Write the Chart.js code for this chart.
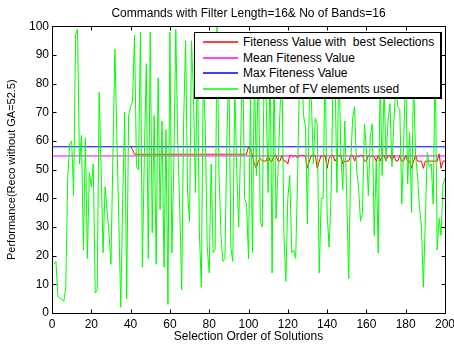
<!DOCTYPE html>
<html>
<head>
<meta charset="utf-8">
<title>Commands with Filter Length=16&amp; No of Bands=16</title>
<script src="https://cdn.jsdelivr.net/npm/chart.js@4.4.1/dist/chart.umd.min.js"></script>
<style>
  html, body { margin: 0; padding: 0; background: #fff; }
  #wrap { position: relative; width: 454px; height: 345px; }
  #legend {
    position: absolute; left: 194px; top: 32px; width: 245px; height: 64px;
    background: #fff; border: 1px solid #000; border-right-width: 2px; border-bottom-width: 2px;
    font: 12px "Liberation Sans", Arial, sans-serif; color: #000;
  }
  .row { position: absolute; left: 0; right: 0; height: 15px; }
  .row .ln { position: absolute; left: 8px; width: 35px; height: 2px; top: 7px; opacity: 0.75; }
  .row .tx { position: absolute; left: 48px; top: 0; line-height: 16px; white-space: pre; }
</style>
</head>
<body>
<div id="wrap">
  <canvas id="chart"></canvas>
  <div id="legend"></div>
</div>
<script>
// texts
const chartTitle = 'Commands with Filter Length=16& No of Bands=16';
const xAxisTitle = 'Selection Order of Solutions';
const yAxisTitle = 'Performance(Reco without GA=52.5)';
const seriesNames = ['Fiteness Value with  best Selections', 'Mean Fiteness Value', 'Max Fiteness Value', 'Number of FV elements used'];
const seriesColors = ['#ff0000', '#ff00ff', '#0000ff', '#00ff00'];

// ticks
const xTicks = [0, 20, 40, 60, 80, 100, 120, 140, 160, 180, 200];
const yTicks = [0, 10, 20, 30, 40, 50, 60, 70, 80, 90, 100];

// number of FV elements used, selection order 1..200
const fvElements = [
  17, 18, 6, 5, 5, 4, 9, 47, 59, 60,
  41, 97, 99, 52, 62, 22, 61, 19, 49, 44,
  52, 7, 8, 77, 50, 21, 44, 36, 28, 17,
  55, 92, 62, 32, 2, 40, 70, 5, 69, 72,
  74, 97, 51, 50, 98, 16, 55, 87, 19, 98,
  28, 69, 17, 82, 36, 67, 16, 64, 3, 98,
  21, 52, 99, 60, 37, 8, 67, 95, 42, 32,
  95, 76, 42, 91, 28, 9, 84, 65, 23, 14,
  52, 21, 22, 100, 48, 27, 18, 19, 60, 88,
  23, 18, 79, 50, 30, 58, 95, 40, 38, 19,
  76, 21, 85, 48, 90, 32, 30, 88, 75, 42,
  90, 14, 85, 33, 49, 70, 88, 28, 11, 40,
  48, 21, 22, 19, 48, 85, 88, 69, 65, 31,
  76, 74, 52, 68, 66, 14, 40, 40, 90, 35,
  23, 40, 80, 86, 42, 90, 55, 43, 67, 40,
  12, 52, 68, 72, 50, 44, 32, 35, 66, 57,
  41, 62, 66, 27, 53, 21, 85, 48, 80, 53,
  67, 73, 51, 67, 80, 72, 71, 38, 60, 85,
  45, 63, 35, 84, 55, 48, 37, 30, 9, 33,
  56, 51, 52, 38, 90, 22, 33, 27, 45, 47
];

// fitness value with best selections, from selection order 40 to 200
const bestFitnessStart = 40;
const bestFitness = [
  58, 57,
  55.4, 55.4, 55.4, 55.4, 55.4, 55.4, 55.4, 55.4, 55.4, 55.4,
  55.4, 55.4, 55.4, 55.4, 55.4, 55.4, 55.4, 55.4, 55.4, 55.4,
  55.4, 55.4, 55.4, 55.4, 55.4, 55.4, 55.4, 55.4, 55.4, 55.4,
  55.4, 55.4, 55.4, 55.4, 55.4, 55.4, 55.4, 55.4, 55.4, 55.4,
  55.4, 55.4, 55.4, 55.4, 55.4, 55.4, 55.4, 55.4, 55.4, 55.4,
  55.4, 55.4, 55.4, 55.4, 55.4, 55.4, 55.4, 55.4,
  58, 57, 55, 52, 50.5, 53, 54, 53, 53, 53,
  55, 53, 53, 55, 55, 53, 53, 55, 53, 53,
  52, 55, 55, 54.5, 55, 54, 55, 55, 55, 54.5,
  50.5, 53, 55, 55, 55, 50.5, 53, 55, 54.5, 55,
  50.5, 54, 55, 55, 53, 54, 55, 55, 52, 53,
  53, 53, 55, 55, 53, 55, 54.5, 55, 55, 53,
  53, 55, 54.5, 55, 54.5, 53, 55, 53, 55, 55,
  53, 55, 55, 53, 55, 53, 53, 55, 53, 53,
  55, 53, 53, 50.5, 53, 55, 53, 53, 53, 50.5,
  53, 53, 53, 53, 53, 53, 53, 55.5, 50.5, 53,
  53
];

const meanFitness = 54.8;
const maxFitness = 58;
const xMin = 0, xMax = 200;

// MATLAB-like box with inward ticks on all four sides
const boxPlugin = {
  id: 'boxPlugin',
  afterDatasetsDraw(chart) {
    const { ctx, chartArea: a, scales } = chart;
    const l = Math.round(a.left) + 0.5, r = Math.round(a.right) + 0.5;
    const t = Math.round(a.top) + 0.5, b = Math.round(a.bottom) + 0.5;
    ctx.save();
    ctx.strokeStyle = '#000';
    ctx.lineWidth = 1;
    ctx.beginPath();
    ctx.rect(l, t, r - l, b - t);
    scales.x.ticks.forEach(tk => {
      const px = Math.round(scales.x.getPixelForValue(tk.value)) + 0.5;
      ctx.moveTo(px, b); ctx.lineTo(px, b - 4);
      ctx.moveTo(px, t); ctx.lineTo(px, t + 4);
    });
    scales.y.ticks.forEach(tk => {
      const py = Math.round(scales.y.getPixelForValue(tk.value)) + 0.5;
      ctx.moveTo(l, py); ctx.lineTo(l + 4, py);
      ctx.moveTo(r, py); ctx.lineTo(r - 4, py);
    });
    ctx.stroke();
    ctx.restore();
  }
};

Chart.defaults.font.family = '"Liberation Sans", Arial, sans-serif';
Chart.defaults.font.size = 12;
Chart.defaults.color = '#000';

const lineStyle = (color, order) => ({
  borderColor: color, backgroundColor: color, borderWidth: 1,
  pointRadius: 0, tension: 0, fill: false, order: order
});

new Chart(document.getElementById('chart'), {
  type: 'line',
  data: {
    datasets: [
      Object.assign({ label: seriesNames[0],
        data: bestFitness.map((v, i) => ({ x: bestFitnessStart + i, y: v })) }, lineStyle(seriesColors[0], 3)),
      Object.assign({ label: seriesNames[1],
        data: [{ x: xMin, y: meanFitness }, { x: xMax, y: meanFitness }] }, lineStyle(seriesColors[1], 2)),
      Object.assign({ label: seriesNames[2],
        data: [{ x: xMin, y: maxFitness }, { x: xMax, y: maxFitness }] }, lineStyle(seriesColors[2], 1)),
      Object.assign({ label: seriesNames[3],
        data: fvElements.map((v, i) => ({ x: i + 1, y: v })) }, lineStyle(seriesColors[3], 0))
    ]
  },
  options: {
    responsive: true,
    maintainAspectRatio: false,
    animation: false,
    layout: { padding: 0 },
    plugins: {
      legend: { display: false },
      tooltip: { enabled: false },
      title: {
        display: true, text: chartTitle, color: '#000', fullSize: false,
        font: { size: 12, weight: 'normal' },
        padding: { top: 6, bottom: 6 }
      }
    },
    scales: {
      x: {
        type: 'linear', min: xMin, max: xMax,
        afterBuildTicks: s => { s.ticks = xTicks.map(v => ({ value: v })); },
        afterFit: s => { s.height = 32; s.paddingRight = 9; },
        grid: { display: false, drawTicks: false },
        border: { display: false },
        ticks: { padding: 4, maxRotation: 0, autoSkip: false },
        title: { display: true, text: xAxisTitle, padding: { top: 0, bottom: 1 } }
      },
      y: {
        type: 'linear', min: 0, max: 100,
        afterBuildTicks: s => { s.ticks = yTicks.map(v => ({ value: v })); },
        afterFit: s => { s.width = 52; },
        grid: { display: false, drawTicks: false },
        border: { display: false },
        ticks: { padding: 3, autoSkip: false },
        title: { display: true, text: yAxisTitle, font: { size: 11 }, padding: { top: 5, bottom: 0 } }
      }
    }
  },
  plugins: [boxPlugin]
});

// legend box drawn inside the axes, upper right
const legendEl = document.getElementById('legend');
seriesNames.forEach((name, i) => {
  const row = document.createElement('div');
  row.className = 'row';
  row.style.top = (1 + i * 15.5) + 'px';
  const ln = document.createElement('span');
  ln.className = 'ln';
  ln.style.background = seriesColors[i];
  const tx = document.createElement('span');
  tx.className = 'tx';
  tx.textContent = name;
  row.appendChild(ln);
  row.appendChild(tx);
  legendEl.appendChild(row);
});
</script>
</body>
</html>
